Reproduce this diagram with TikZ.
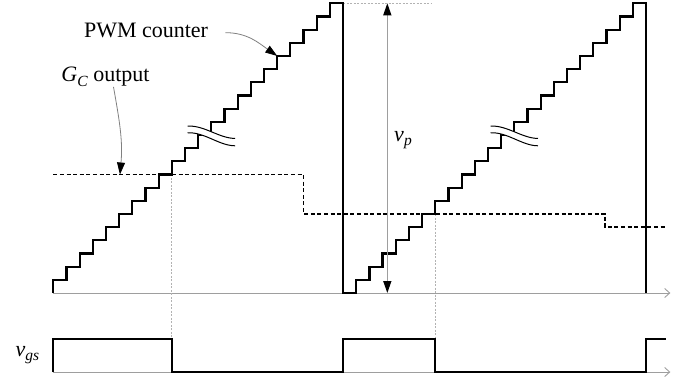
\documentclass[tikz,border=0pt]{standalone}
\usepackage{fontspec}
\setmainfont{Liberation Serif}
\usetikzlibrary{arrows.meta}

\definecolor{axisgray}{gray}{0.62}
\definecolor{guidegray}{gray}{0.7}
\newcommand{\itsub}[2]{\textit{#1}\raisebox{-0.4ex}{\fontsize{15.5}{15.5}\selectfont\textit{#2}}}

\begin{document}
\begin{tikzpicture}[
  x=13.17pt, y=13.17pt,
  stair/.style={line width=2.2pt, line join=miter},
  gcline/.style={line width=1.8pt, dash pattern=on 4pt off 2.6pt},
  axis/.style={axisgray, line width=0.9pt, -{Straight Barb[length=5pt,width=9pt]}},
  guide/.style={guidegray, line width=0.8pt, dash pattern=on 2pt off 1.5pt},
  callout/.style={gray, line width=0.8pt, -{Triangle[length=12pt,width=8pt,color=black]}},
  span/.style={axisgray, line width=1.3pt, {Triangle[length=12pt,width=8pt,color=black]}-{Triangle[length=12pt,width=8pt,color=black]}},
  lbl/.style={font=\fontsize{22}{26}\selectfont, inner sep=0pt},
  brk/.style={line width=1pt}
]
\useasboundingbox (-4.05,-6.76) rectangle (48.95,22.25);

% time axes
\draw[axis] (0,0) -- (46.85,0);
\draw[axis] (0,-6) -- (46.85,-6);

% guide lines
\draw[guide] (9,9) -- (9,-3.5);
\draw[guide] (29,6) -- (29,-3.5);
\draw[guide] (22,22) -- (28.73,22);

% G_C output
\draw[gcline] (0,9) -- (19,9) -- (19,6) -- (41.9,6) -- (41.9,5) -- (46.52,5);

% PWM counter, two periods
\draw[stair] (0,0) \foreach \k in {0,...,21}{ -- (\k,\k+1) -- (\k+1,\k+1) } -- (22,0) -- (23,0)
  \foreach \k in {0,...,21}{ -- (\k+23,\k+1) -- (\k+24,\k+1) } -- (45,0);

% breaks
\foreach \dx in {0,23}{
  \begin{scope}[shift={(\dx,0)}]
    \fill[white] (10.2,12.68) .. controls (11.5,12.73) and (12.6,11.74) .. (13.8,11.74)
      -- (13.8,11.18) .. controls (12.6,11.18) and (11.5,12.22) .. (10.2,12.17) -- cycle;
    \draw[brk] (10.2,12.68) .. controls (11.5,12.73) and (12.6,11.74) .. (13.8,11.74);
    \draw[brk] (10.2,12.17) .. controls (11.5,12.22) and (12.6,11.18) .. (13.8,11.18);
  \end{scope}
}

% gate signal
\draw[stair] (0,-6) -- (0,-3.5) -- (9,-3.5) -- (9,-6) -- (22,-6) -- (22,-3.5) -- (29,-3.5)
  -- (29,-6) -- (45,-6) -- (45,-3.5) -- (46.52,-3.5);

% labels
\node[lbl] (pwmlbl) at (7.04,19.97) {PWM counter};
\node[lbl] (gclbl) at (3.96,16.4) {\itsub{G}{C} output};
\node[lbl] (vplbl) at (26.55,11.62) {\itsub{v}{p}};
\node[lbl] (vgslbl) at (-1.97,-4.71) {\itsub{v}{gs}};
\coordinate (pwmtip) at (17,18);
\coordinate (gctip) at (5.06,9);
\coordinate (vptop) at (25.36,22);
\coordinate (vpbot) at (25.36,0);

\draw[callout] (pwmlbl.east) ++(1.3,-0.2) to[out=0, in=145] (pwmtip);
\draw[callout] ([xshift=8pt]gclbl.south) to[out=-80, in=85] (gctip);
\draw[span] (vptop) -- (vpbot);
\end{tikzpicture}
\end{document}
